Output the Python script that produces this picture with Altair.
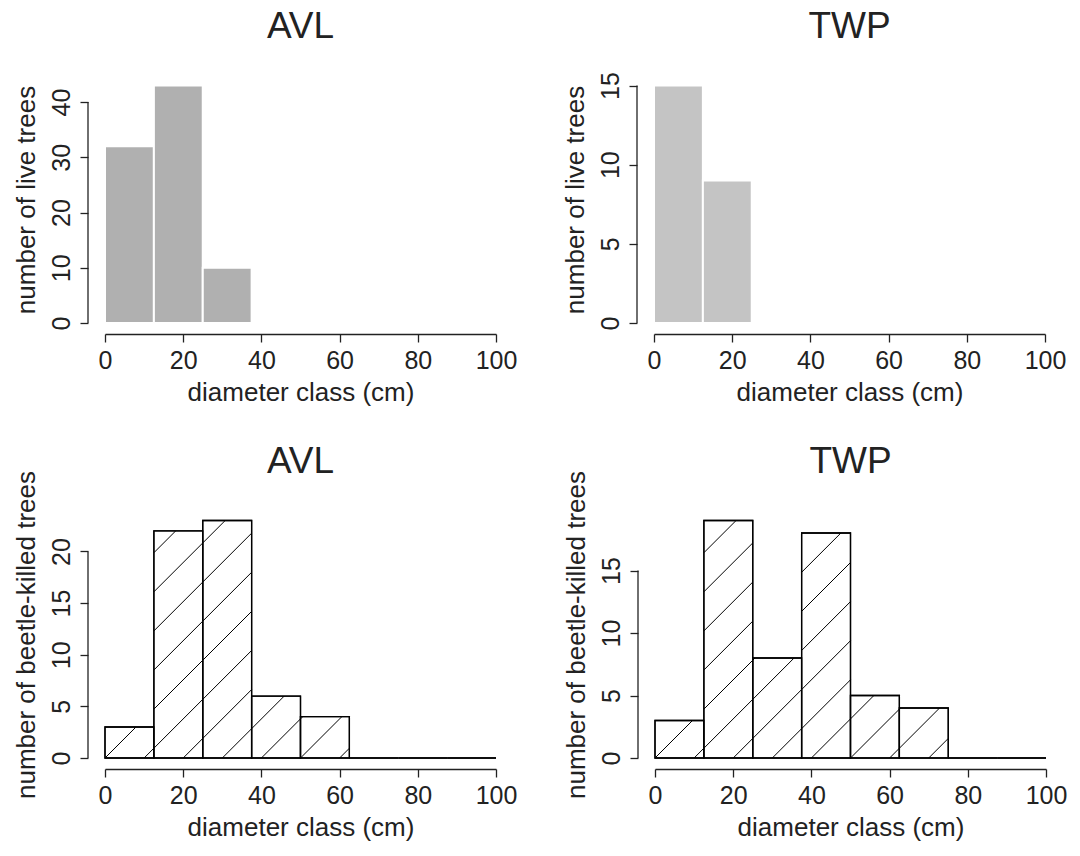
import altair as alt
import pandas as pd
import math

# ---- data ----
bin_edges = [0, 12.5, 25, 37.5, 50, 62.5, 75, 87.5, 100]
avl_live = [32, 43, 10, 0, 0, 0, 0, 0]
twp_live = [15, 9, 0, 0, 0, 0, 0, 0]
avl_killed = [3, 22, 23, 6, 4, 0, 0, 0]
twp_killed = [3, 19, 8, 18, 5, 4, 0, 0]
x_ticks = [0, 20, 40, 60, 80, 100]
avl_live_ticks = [0, 10, 20, 30, 40]
twp_live_ticks = [0, 5, 10, 15]
avl_killed_ticks = [0, 5, 10, 15, 20]
twp_killed_ticks = [0, 5, 10, 15]

FONT = "Liberation Sans"
W = 391
H = 247
TXT = "#222222"


def bars_df(counts, only_nonzero):
    rows = []
    for i, c in enumerate(counts):
        if only_nonzero and c == 0:
            continue
        rows.append({"x0": bin_edges[i], "x1": bin_edges[i + 1], "count": c})
    return pd.DataFrame(rows)


def hatch_df(counts, ymax):
    # 45-degree hatch lines (in pixel space), crossing the baseline every 10 cm
    sx = W / 100.0
    sy = H / ymax
    step = 10 * sx
    rows = []
    for i, c in enumerate(counts):
        if c <= 0:
            continue
        X0, X1, T = bin_edges[i] * sx, bin_edges[i + 1] * sx, c * sy
        kmin = math.floor((X0 - T) / step)
        kmax = math.ceil(X1 / step)
        for k in range(kmin, kmax + 1):
            cc = k * step
            xs = max(X0, cc)
            xe = min(X1, cc + T)
            if xe - xs > 0.5:
                rows.append({"hx": xs / sx, "hx2": xe / sx,
                             "hy": (xs - cc) / sy, "hy2": (xe - cc) / sy})
    return pd.DataFrame(rows)


def panel(title, counts, ticks, ytitle, killed, fill):
    ymax = max(counts) * 1.04
    xs = alt.Scale(domain=[0, 100], nice=False, zero=False)
    ys = alt.Scale(domain=[0, ymax], nice=False, zero=False)
    xaxis = alt.Axis(values=x_ticks, title="diameter class (cm)", offset=11,
                     grid=False, tickSize=8, labelPadding=6, titlePadding=6,
                     format="d")
    yaxis = alt.Axis(values=ticks, title=ytitle, offset=17, grid=False,
                     domain=False, tickSize=8, labelAngle=270,
                     labelAlign="center", labelBaseline="bottom",
                     labelPadding=6, titlePadding=10, format="d")
    if killed:
        bars = alt.Chart(bars_df(counts, False)).mark_rect(
            fill="white", stroke="black", strokeWidth=1.3
        ).encode(
            x=alt.X("x0:Q", scale=xs, axis=xaxis),
            x2="x1:Q",
            y=alt.Y("count:Q", scale=ys, axis=yaxis),
            y2=alt.datum(0),
        )
    else:
        bars = alt.Chart(bars_df(counts, True)).mark_rect(
            fill=fill, stroke="white", strokeWidth=2
        ).encode(
            x=alt.X("x0:Q", scale=xs, axis=xaxis),
            x2="x1:Q",
            y=alt.Y("count:Q", scale=ys, axis=yaxis),
            y2=alt.datum(0),
        )
    layers = [bars]
    if killed:
        hatch = alt.Chart(hatch_df(counts, ymax)).mark_rule(
            color="black", strokeWidth=1
        ).encode(
            x=alt.X("hx:Q", scale=xs),
            x2="hx2:Q",
            y=alt.Y("hy:Q", scale=ys),
            y2="hy2:Q",
        )
        layers.append(hatch)
        outline = alt.Chart(bars_df(counts, False)).mark_rect(
            fill=None, stroke="black", strokeWidth=1.3
        ).encode(
            x=alt.X("x0:Q", scale=xs),
            x2="x1:Q",
            y=alt.Y("count:Q", scale=ys),
            y2=alt.datum(0),
        )
        layers.append(outline)
    yline = alt.Chart(pd.DataFrame({"a": [ticks[0]], "b": [ticks[-1]]})).mark_rule(
        color=TXT, strokeWidth=1.3
    ).encode(
        x=alt.value(-17),
        y=alt.Y("a:Q", scale=ys),
        y2="b:Q",
    )
    layers.append(yline)
    ttl = alt.Chart(pd.DataFrame({"t": [title]})).mark_text(
        font=FONT, fontSize=37, color=TXT, align="center", baseline="alphabetic"
    ).encode(
        x=alt.value(W / 2),
        y=alt.value(-38),
        text="t:N",
    )
    layers.append(ttl)
    return alt.layer(*layers).properties(width=W, height=H)


top = alt.hconcat(
    panel("AVL", avl_live, avl_live_ticks, "number of live trees", False, "#b0b0b0"),
    panel("TWP", twp_live, twp_live_ticks, "number of live trees", False, "#c4c4c4"),
    spacing=45,
)
bottom = alt.hconcat(
    panel("AVL", avl_killed, avl_killed_ticks, "number of beetle-killed trees", True, None),
    panel("TWP", twp_killed, twp_killed_ticks, "number of beetle-killed trees", True, None),
    spacing=45,
)
chart = alt.vconcat(top, bottom, spacing=38).properties(
    padding={"left": 12, "top": 8, "right": 5, "bottom": 5},
    background="white",
).configure_view(stroke=None).configure_axis(
    labelFont=FONT, titleFont=FONT, labelFontSize=25, titleFontSize=26,
    labelColor=TXT, titleColor=TXT, titleFontWeight="normal",
    domainColor=TXT, tickColor=TXT, domainWidth=1.3, tickWidth=1.3,
    labelOverlap=False, labelFlush=False,
)

chart.save("out.html", embed_options={"renderer": "svg", "actions": False})
